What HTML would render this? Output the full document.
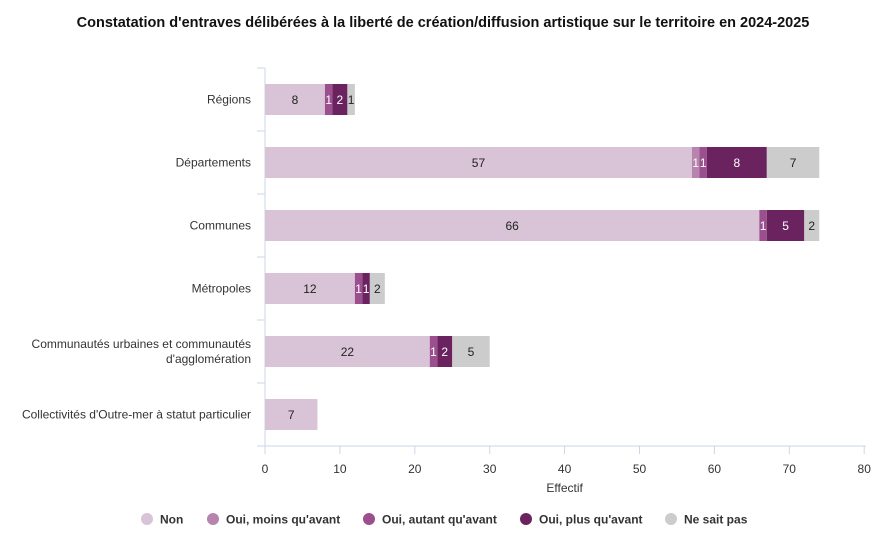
<!DOCTYPE html>
<html><head><meta charset="utf-8"><style>
body{margin:0;background:#fff;font-family:"Liberation Sans",sans-serif;}
svg{display:block}
</style></head><body>
<svg id="c" width="887" height="548">
<text x="443" y="27" text-anchor="middle" font-size="14.5" font-weight="bold" fill="#111">Constatation d'entraves délibérées à la liberté de création/diffusion artistique sur le territoire en 2024-2025</text>
</svg>
<script>
const categories=["Régions","Départements","Communes","Métropoles","Communautés urbaines et communautés|d'agglomération","Collectivités d'Outre-mer à statut particulier"];
const seriesNames=["Non","Oui, moins qu'avant","Oui, autant qu'avant","Oui, plus qu'avant","Ne sait pas"];
const nonVals=[8,57,66,12,22,7];
const moinsVals=[0,1,0,0,0,0];
const autantVals=[1,1,1,1,1,0];
const plusVals=[2,8,5,1,2,0];
const nspVals=[1,7,2,2,5,0];
const xTicks=[0,10,20,30,40,50,60,70,80];
const colors=["#d9c3d6","#b784ad","#9b4f8e","#6b2360","#cccccc"];
const labelColors=["#222","#fff","#fff","#fff","#222"];
const svg=document.getElementById('c');const NS="http://www.w3.org/2000/svg";
const x0=265,sc=7.49,top0=68,band=63,bh=31;
function X(v){return x0+v*sc;}
function Y(i){return top0+i*band+band/2;}
function mk(t,a,p){const e=document.createElementNS(NS,t);for(const k in a)e.setAttribute(k,a[k]);(p||svg).appendChild(e);return e;}
// grid/axis
const ax=mk('line',{x1:x0,y1:top0,x2:x0,y2:top0+6*band,stroke:'#ccd6eb'});


const xl=mk('line',{x1:x0,y1:top0+6*band,x2:866,y2:top0+6*band,stroke:'#ccd6eb'});


for(let i=0;i<=6;i++){mk('line',{x1:x0-8,y1:top0+i*band,x2:x0,y2:top0+i*band,stroke:'#ccd6eb'});}
xTicks.forEach(t=>{
 mk('line',{x1:X(t),y1:top0+6*band,x2:X(t),y2:top0+6*band+8,stroke:'#ccd6eb'});
 const tx=mk('text',{x:X(t),y:473,'text-anchor':'middle','font-size':12,fill:'#333'});
 tx.textContent=t;
 
 
});
const xt=mk('text',{x:X(40),y:492,'text-anchor':'middle','font-size':12,fill:'#333'});
xt.textContent='Effectif';


categories.forEach((c,i)=>{
 const parts=c.split('|');
 parts.forEach((p,j)=>{
  const t=mk('text',{x:251,y:Y(i)+4+(j-(parts.length-1)/2)*15,'text-anchor':'end','font-size':12,fill:'#333'});
  t.textContent=p;
  
  
 });
});
const all=[nonVals,moinsVals,autantVals,plusVals,nspVals];
categories.forEach((c,i)=>{
 let cum=0;
 all.forEach((arr,s)=>{
  const v=arr[i];if(!v)return;
  const r=mk('rect',{x:X(cum),y:Y(i)-bh/2,width:v*sc,height:bh,fill:colors[s]});
  
  
  const t=mk('text',{x:X(cum+v/2),y:Y(i)+4.5,'text-anchor':'middle','font-size':12,fill:labelColors[s]});
  t.textContent=v;
  
  
  cum+=v;
 });
});
const lx=[147,213,369,526,671];
seriesNames.forEach((n,s)=>{
 const g=mk('g',{});
 
 
 mk('circle',{cx:lx[s],cy:519,r:6,fill:colors[s]},g);
 const t=mk('text',{x:lx[s]+13,y:523.5,'font-size':12,'font-weight':'bold',fill:'#333'},g);
 t.textContent=n;
});
</script>
</body></html>
